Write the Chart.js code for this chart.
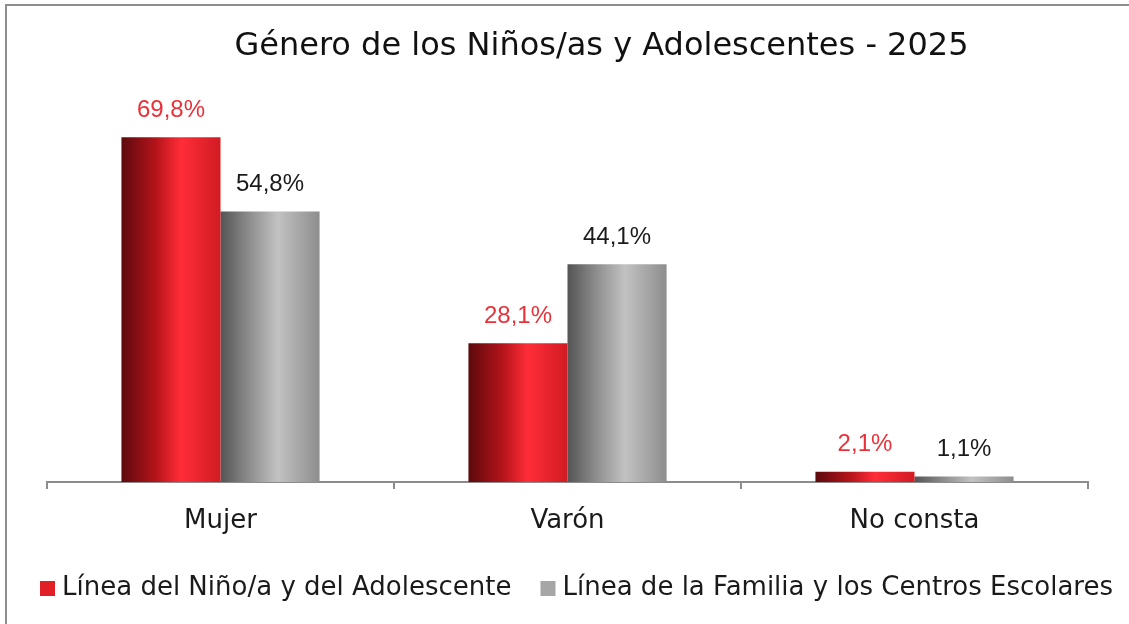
<!DOCTYPE html>
<html lang="es">
<head>
  <meta charset="UTF-8">
  <title>Género de los Niños/as y Adolescentes - 2025</title>
  <script src="https://cdn.jsdelivr.net/npm/chart.js"></script>
  <style>
    html, body { margin: 0; padding: 0; background: #fff; }
    #wrap { position: relative; width: 1129px; height: 624px; }
    /* marco gris del gráfico original (recortado) */
    #marco {
      position: absolute; left: 5px; top: 4px; right: 0; bottom: 0;
      border-top: 2px solid #8f8f8f; border-left: 2px solid #8f8f8f;
      pointer-events: none;
    }
  </style>
</head>
<body>
  <div id="wrap">
    <canvas id="grafico" width="1129" height="624"></canvas>
    <div id="marco"></div>
  </div>

  <script>
    // Datos
    const titulo = 'Género de los Niños/as y Adolescentes - 2025';
    const categorias = ['Mujer', 'Varón', 'No consta'];
    const series = ['Línea del Niño/a y del Adolescente', 'Línea de la Familia y los Centros Escolares'];
    const lineaNino = [69.8, 28.1, 2.1];
    const lineaFamilia = [54.8, 44.1, 1.1];

    // Degradado horizontal de cada barra (efecto cilindro)
    const degradados = {
      id: 'degradados',
      beforeDatasetsDraw(chart) {
        const ctx = chart.ctx;
        chart.data.datasets.forEach((ds, i) => {
          chart.getDatasetMeta(i).data.forEach(bar => {
            const g = ctx.createLinearGradient(bar.x - bar.width / 2, 0, bar.x + bar.width / 2, 0);
            ds.paradas.forEach(([p, c]) => g.addColorStop(p, c));
            bar.options = Object.assign({}, bar.options, { backgroundColor: g });
          });
        });
      }
    };

    // Etiquetas de valor encima de las barras
    const etiquetas = {
      id: 'etiquetas',
      afterDatasetsDraw(chart) {
        const ctx = chart.ctx;
        ctx.save();
        ctx.font = '24px "Liberation Sans"';
        ctx.textAlign = 'center';
        ctx.textBaseline = 'middle';
        chart.data.datasets.forEach((ds, i) => {
          ctx.fillStyle = ds.colorEtiqueta;
          chart.getDatasetMeta(i).data.forEach((bar, j) => {
            const txt = ds.data[j].toFixed(1).replace('.', ',') + '%';
            ctx.fillText(txt, bar.x, bar.y - 27);
          });
        });
        ctx.restore();
      }
    };

    // Título (va algo desplazado a la derecha en el original)
    const tituloPlugin = {
      id: 'tituloPlugin',
      afterDraw(chart) {
        const ctx = chart.ctx;
        const a = chart.chartArea;
        ctx.save();
        ctx.font = '32px "DejaVu Sans"';
        ctx.fillStyle = '#111';
        ctx.textAlign = 'center';
        ctx.textBaseline = 'middle';
        ctx.fillText(titulo, (a.left + a.right) / 2 + 34, 47);
        ctx.restore();
      }
    };

    // Leyenda a medida: cuadrado pegado al texto, como en el original
    const leyenda = {
      id: 'leyenda',
      afterDraw(chart) {
        const ctx = chart.ctx;
        ctx.save();
        ctx.font = '26px "DejaVu Sans"';
        ctx.textBaseline = 'middle';
        ctx.textAlign = 'left';
        let x = 40;
        const y = 588;
        chart.data.datasets.forEach(ds => {
          ctx.fillStyle = ds.backgroundColor;
          ctx.fillRect(x, y - 7, 15, 15);
          ctx.fillStyle = '#1a1a1a';
          ctx.fillText(ds.label, x + 22, y);
          x += 22 + ctx.measureText(ds.label).width + 29;
        });
        ctx.restore();
      }
    };

    const ctx = document.getElementById('grafico').getContext('2d');
    new Chart(ctx, {
      type: 'bar',
      data: {
        labels: categorias,
        datasets: [
          {
            label: series[0],
            data: lineaNino,
            backgroundColor: '#e01f26',
            paradas: [[0, '#5c0a0d'], [0.35, '#b5141b'], [0.6, '#ff2d38'], [1, '#d11b23']],
            colorEtiqueta: '#e8323a',
            categoryPercentage: 0.571,
            barPercentage: 1
          },
          {
            label: series[1],
            data: lineaFamilia,
            backgroundColor: '#a6a6a6',
            paradas: [[0, '#545454'], [0.3, '#8f8f8f'], [0.58, '#c2c2c2'], [1, '#8d8d8d']],
            colorEtiqueta: '#1a1a1a',
            categoryPercentage: 0.571,
            barPercentage: 1
          }
        ]
      },
      options: {
        responsive: false,
        animation: false,
        layout: { padding: { top: 87, right: 0, bottom: 82, left: 0 } },
        plugins: {
          title: { display: false },
          tooltip: { enabled: false },
          legend: { display: false }
        },
        scales: {
          x: {
            grid: { drawOnChartArea: false, drawTicks: true, tickLength: 7, color: '#8c8c8c', lineWidth: 2 },
            border: { color: '#8c8c8c', width: 2 },
            ticks: { font: { family: 'DejaVu Sans', size: 26 }, color: '#1a1a1a', padding: 17 },
            afterFit(s) { s.height = 60; }
          },
          y: {
            min: 0,
            max: 80,
            grid: { display: false },
            border: { display: false },
            ticks: { display: false },
            afterFit(s) { s.width = 47; }
          },
          yDer: {
            position: 'right',
            grid: { display: false },
            border: { display: false },
            ticks: { display: false },
            afterFit(s) { s.width = 41; }
          }
        }
      },
      plugins: [degradados, etiquetas, tituloPlugin, leyenda]
    });
  </script>
</body>
</html>
